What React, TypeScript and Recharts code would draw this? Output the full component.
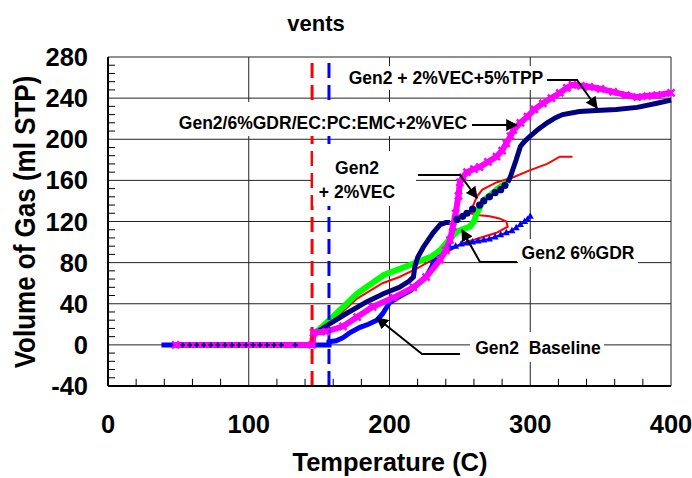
import { LineChart, Line, XAxis, YAxis, CartesianGrid, ReferenceLine } from 'recharts'

// tick values
const xTicks = [0, 100, 200, 300, 400]
const yTicks = [-40, 0, 40, 80, 120, 160, 200, 240, 280]
const xMinorTicks = [20, 40, 60, 80, 120, 140, 160, 180, 220, 240, 260, 280, 320, 340, 360, 380]
const yMinorTicks = yTicks.slice(0, -1).flatMap((v) => [v + 8, v + 16, v + 24, v + 32])

// vent temperatures (dashed markers)
const redVent = 145
const blueVent = 157

// series, [temperature, volume]
const baselineLine: [number, number][] = [
  [38, 0], [157, 0], [157, 3], [162, 4], [167, 7], [172, 12], [179, 17], [185, 20],
  [191, 24], [195, 30], [200, 41], [207, 47], [215, 53], [221, 60], [226, 66],
  [230, 76], [234, 89], [238, 92], [241, 95],
]
const baselineTail: [number, number][] = [
  [243, 95], [247, 96], [251, 98], [255, 99], [259, 100], [263, 101], [267, 102],
  [271, 103], [275, 105], [279, 107], [283, 109], [287, 111], [290, 114], [293, 117],
  [296, 120], [298, 122], [300, 125],
]
const gdr: [number, number][] = [
  [145, 0], [146, 8], [160, 24], [177, 45], [195, 60], [207, 66], [219, 74], [236, 87],
  [243, 92], [252, 99], [264, 104], [276, 109], [284, 115], [283, 120], [278, 123],
  [271, 125], [264, 126], [257, 128], [259, 134], [262, 144], [266, 151], [276, 158],
  [288, 163], [300, 170], [312, 176], [321, 183], [330, 183],
]
const vec: [number, number][] = [
  [145, 0], [146, 10], [158, 25], [177, 50], [196, 68], [215, 78], [230, 86], [236, 92],
  [241, 100], [245, 106], [249, 111], [253, 113], [257, 115], [260, 120], [262, 128],
  [265, 136], [267, 141], [272, 146], [276, 151], [280, 155], [284, 158],
]
const emcFlat: [number, number][] = [
  [53, 0], [58, 0], [63, 0], [68, 0], [73, 0], [78, 0], [83, 0], [88, 0], [93, 0],
  [98, 0], [103, 0], [108, 0], [113, 0], [118, 0], [123, 0], [133, 0],
]
const emcRise: [number, number][] = [
  [145, 0], [146, 10], [158, 21], [170, 31], [184, 42], [196, 50], [207, 56], [214, 62],
  [217, 66], [218, 76], [220, 85], [224, 95], [231, 109], [236, 117], [240, 119], [243, 119],
]
const emcDots: [number, number][] = [
  [248, 122], [252, 125], [255, 128], [259, 132], [264, 136], [267, 140], [271, 144],
  [275, 148], [279, 151], [282, 155],
]
const emcTail: [number, number][] = [
  [284, 158], [286, 164], [288, 172], [290, 180], [293, 193], [296, 198], [300, 203],
  [306, 210], [312, 216], [318, 221], [323, 224], [335, 227], [347, 228], [361, 229],
  [376, 231], [390, 235], [400, 238],
]
const tpp: [number, number][] = [
  [48, 0], [145, 0], [146, 12], [155, 13], [167, 18], [177, 27], [188, 37], [203, 46],
  [217, 56], [226, 66], [236, 83], [240, 92], [243, 102], [245, 115], [247, 128],
  [249, 145], [250, 158], [252, 163], [255, 168], [260, 171], [264, 173], [270, 178],
  [276, 183], [280, 189], [283, 196], [286, 203], [288, 209], [293, 216], [298, 222],
  [303, 229], [309, 235], [315, 240], [321, 245], [326, 250], [330, 253], [336, 252],
  [342, 251], [350, 249], [359, 246], [368, 243], [376, 241], [383, 242], [390, 243],
  [400, 245],
]

const rows = (pts: [number, number][]) => pts.map(([t, v]) => ({ t, v }))

const FONT = '"Liberation Sans", Arial, sans-serif'
const BLUE = '#0000ff'
const RED = '#ff0000'
const GREEN = '#00ff00'
const NAVY = '#000080'
const MAGENTA = '#ff00ff'

function Triangle({ cx, cy }: any) {
  if (cx == null || cy == null) return null
  return <path d={`M${cx},${cy - 4}L${cx + 3.5},${cy + 2.5}L${cx - 3.5},${cy + 2.5}Z`} fill={BLUE} />
}

function Cross({ cx, cy }: any) {
  if (cx == null || cy == null) return null
  return (
    <path
      d={`M${cx - 3.5},${cy - 3.5}L${cx + 3.5},${cy + 3.5}M${cx - 3.5},${cy + 3.5}L${cx + 3.5},${cy - 3.5}`}
      stroke={MAGENTA}
      strokeWidth={2.5}
    />
  )
}

function Plus({ cx, cy }: any) {
  if (cx == null || cy == null) return null
  return <path d={`M${cx - 2.5},${cy}H${cx + 2.5}M${cx},${cy - 2.5}V${cy + 2.5}`} stroke={NAVY} strokeWidth={2} />
}

function Dot({ cx, cy }: any) {
  if (cx == null || cy == null) return null
  return <circle cx={cx} cy={cy} r={3.6} fill={NAVY} />
}

const labelStyle = { fontFamily: FONT, fontWeight: 700, fontSize: 17.5, fill: '#000' }
const titleStyle = { fontFamily: FONT, fontWeight: 700, fontSize: 26 }

function Arrow({ pts }: { pts: [number, number][] }) {
  const d = pts.map(([x, y], i) => `${i ? 'L' : 'M'}${x},${y}`).join('')
  return <path d={d} fill="none" stroke="#000" strokeWidth={2} markerEnd="url(#head)" />
}

function Overlay() {
  return (
    <svg width={692} height={478} style={{ position: 'absolute', left: 0, top: 0, pointerEvents: 'none' }}>
      <defs>
        <marker id="head" viewBox="0 0 10 10" refX="9" refY="5" markerWidth="6" markerHeight="6" orient="auto">
          <path d="M0,0L10,5L0,10Z" fill="#000" />
        </marker>
      </defs>
      <text x={316} y={31} textAnchor="middle" style={{ fontFamily: FONT, fontWeight: 700, fontSize: 22 }}>vents</text>
      <text transform="translate(35,222) rotate(-90) scale(1,1.12)" textAnchor="middle" style={titleStyle}>
        Volume of Gas (ml STP)
      </text>
      <text x={390} y={471} textAnchor="middle" style={{ ...titleStyle, fontSize: 25.5 }}>
        Temperature (C)
      </text>

      <rect x={344} y={66} width={204} height={24} fill="#fff" />
      <text x={446} y={84} textAnchor="middle" style={labelStyle}>Gen2 + 2%VEC+5%TPP</text>
      <Arrow pts={[[547, 80], [577, 80], [597, 108]]} />

      <rect x={178} y={102} width={292} height={34} fill="#fff" />
      <text x={323} y={129} textAnchor="middle" style={labelStyle}>Gen2/6%GDR/EC:PC:EMC+2%VEC</text>
      <Arrow pts={[[472, 125], [517, 125]]} />

      <rect x={313} y={151} width={103} height={55} fill="#fff" />
      <text x={357} y={174} textAnchor="middle" style={labelStyle}>Gen2</text>
      <text x={357} y={198} textAnchor="middle" style={labelStyle}>+ 2%VEC</text>
      <Arrow pts={[[418, 175], [460, 175], [477, 198]]} />

      <rect x={518} y={239} width={120} height={28} fill="#fff" />
      <text x={578} y={259} textAnchor="middle" style={labelStyle}>Gen2 6%GDR</text>
      <Arrow pts={[[517, 262], [480, 262], [462, 230]]} />

      <rect x={470} y={332} width={134} height={30} fill="#fff" />
      <text x={538} y={354} textAnchor="middle" style={labelStyle} xmlSpace="preserve">Gen2  Baseline</text>
      <Arrow pts={[[460, 354], [422, 354], [377, 318]]} />
    </svg>
  )
}

export default function App() {
  const tickStyle = { fontFamily: FONT, fontWeight: 700, fontSize: 25.5, fill: '#000' }
  return (
    <div style={{ position: 'absolute', left: 0, top: 0, width: 692, height: 478, background: '#fff' }}>
      <LineChart width={692} height={478} margin={{ top: 57, right: 21, bottom: 52, left: 48 }}>
        <CartesianGrid stroke="#222" strokeWidth={1} />
        <XAxis
          type="number"
          dataKey="t"
          domain={[0, 400]}
          ticks={xTicks}
          height={40}
          tickSize={0}
          tickMargin={29}
          tickLine={false}
          axisLine={{ stroke: '#000', strokeWidth: 2 }}
          tick={tickStyle}
        />
        <YAxis
          type="number"
          dataKey="v"
          domain={[-40, 280]}
          ticks={yTicks}
          width={60}
          tickSize={0}
          tickMargin={20}
          tickLine={false}
          axisLine={{ stroke: '#000', strokeWidth: 2 }}
          tick={tickStyle}
        />
        {xMinorTicks.map((t) => (
          <ReferenceLine key={'x' + t} segment={[{ x: t, y: -40 }, { x: t, y: -33 }]} stroke="#000" strokeWidth={1} />
        ))}
        {yMinorTicks.map((v) => (
          <ReferenceLine key={'y' + v} segment={[{ x: 0, y: v }, { x: 5, y: v }]} stroke="#000" strokeWidth={1} />
        ))}
        <Line data={rows(gdr)} dataKey="v" stroke={RED} strokeWidth={2} dot={false} isAnimationActive={false} />
        <Line data={rows(baselineLine)} dataKey="v" stroke={BLUE} strokeWidth={5} dot={false} isAnimationActive={false} />
        <Line data={rows(baselineTail)} dataKey="v" stroke={BLUE} strokeWidth={2} dot={<Triangle />} isAnimationActive={false} />
        <Line data={rows(vec)} dataKey="v" stroke={GREEN} strokeWidth={6} dot={false} isAnimationActive={false} />
        <Line data={rows(emcRise)} dataKey="v" stroke={NAVY} strokeWidth={5} dot={false} isAnimationActive={false} />
        <Line data={rows(tpp)} dataKey="v" stroke={MAGENTA} strokeWidth={6} dot={<Cross />} isAnimationActive={false} />
        <Line data={rows(emcFlat)} dataKey="v" stroke="none" dot={<Plus />} isAnimationActive={false} />
        <Line data={rows(emcDots)} dataKey="v" stroke="none" dot={<Dot />} isAnimationActive={false} />
        <Line data={rows(emcTail)} dataKey="v" stroke={NAVY} strokeWidth={5} dot={false} isAnimationActive={false} />
        <ReferenceLine x={redVent} stroke={RED} strokeWidth={3} strokeDasharray="15 7" />
        <ReferenceLine x={blueVent} stroke={BLUE} strokeWidth={3} strokeDasharray="15 7" />
      </LineChart>
      <Overlay />
    </div>
  )
}
